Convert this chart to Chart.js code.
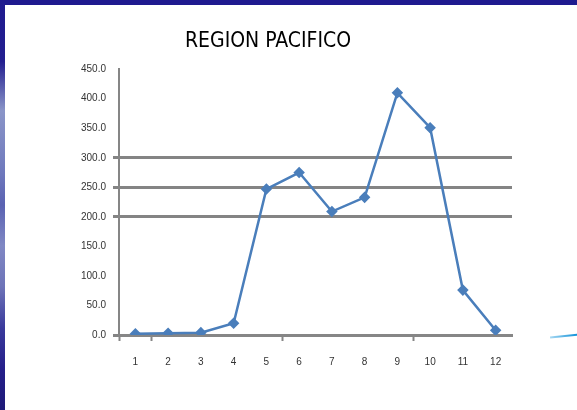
<!DOCTYPE html>
<html>
<head>
<meta charset="utf-8">
<script src="https://cdn.jsdelivr.net/npm/chart.js"></script>
<style>
    body { margin: 0; background: #fff; }
    #wrap { position: relative; width: 577px; height: 410px; overflow: hidden; background: #fff; }
    #topBar { position: absolute; left: 0; top: 0; width: 577px; height: 5px; background: #1f1a8f; }
    #leftBar {
        position: absolute; left: 0; top: 0; width: 5px; height: 410px;
        background: linear-gradient(to bottom, #1f1a8f 0%, #231f90 15%, #8a95c8 27%, #6f79bd 42%, #5a62b2 50%, #8088c4 60%, #6d73b8 70%, #3a3a9c 80%, #251f8a 90%, #1e1a78 100%);
    }
    #deco {
        position: absolute; left: 550px; top: 335px; width: 28px; height: 2px;
        background: linear-gradient(to right, #a8d8f2, #0a8fd8);
        transform: rotate(-6deg);
    }
    canvas { position: absolute; left: 0; top: 0; }
</style>
</head>
<body>
<div id="wrap">
    <div id="topBar"></div>
    <div id="leftBar"></div>
    <div id="deco"></div>
    <canvas id="myChart" width="577" height="410"></canvas>
</div>
<script>
var months = ['1', '2', '3', '4', '5', '6', '7', '8', '9', '10', '11', '12'];
var values = [2, 3, 4, 20, 247, 275, 209, 233, 410, 351, 76, 8];
var gridValues = [200, 250, 300];
var xTickIndexes = [0, 1, 5, 9];

var ctx = document.getElementById('myChart').getContext('2d');
var myChart = new Chart(ctx, {
    type: 'line',
    data: {
        labels: months,
        datasets: [{
            label: 'Region Pacifico',
            data: values,
            borderColor: '#4a7ebb',
            backgroundColor: '#4a7ebb',
            borderWidth: 2.5,
            pointStyle: 'rectRot',
            pointRadius: 4,
            tension: 0,
            fill: false
        }]
    },
    options: {
        responsive: false,
        animation: false,
        layout: {
            padding: { left: 0, right: 41, top: 0, bottom: 0 }
        },
        plugins: {
            legend: { display: false },
            tooltip: { enabled: false },
            title: {
                display: true,
                text: 'REGION PACIFICO',
                color: '#000',
                font: { family: "'Liberation Sans Narrow', 'DejaVu Sans Condensed', sans-serif", size: 21, weight: '500' },
                padding: { top: 29, bottom: 15 }
            }
        },
        scales: {
            x: {
                offset: true,
                grid: {
                    offset: true,
                    drawOnChartArea: false,
                    tickLength: 6,
                    tickWidth: 2,
                    tickColor: (c) => xTickIndexes.indexOf(c.index) >= 0 ? '#868686' : 'rgba(0,0,0,0)'
                },
                border: { color: '#868686', width: 3 },
                ticks: {
                    color: '#333',
                    font: { family: 'Liberation Sans', size: 10 },
                    padding: 15,
                    maxRotation: 0
                },
                afterFit: (scale) => { scale.height = 75; }
            },
            y: {
                min: 0,
                max: 450,
                ticks: {
                    stepSize: 50,
                    color: '#333',
                    font: { family: 'Liberation Sans', size: 10 },
                    padding: 7,
                    callback: (v) => v.toFixed(1)
                },
                grid: {
                    color: (c) => gridValues.indexOf(c.tick.value) >= 0 ? '#848484' : 'rgba(0,0,0,0)',
                    lineWidth: 3,
                    tickLength: 6,
                    tickColor: (c) => (gridValues.indexOf(c.tick.value) >= 0 || c.tick.value === 0) ? '#848484' : 'rgba(0,0,0,0)'
                },
                border: { color: '#868686', width: 2 },
                afterFit: (scale) => { scale.width = 119; }
            },
            spare: {
                position: 'right',
                display: true,
                ticks: { display: false },
                grid: { display: false },
                border: { display: false },
                afterFit: (scale) => { scale.width = 24; }
            }
        }
    }
});
</script>
</body>
</html>
